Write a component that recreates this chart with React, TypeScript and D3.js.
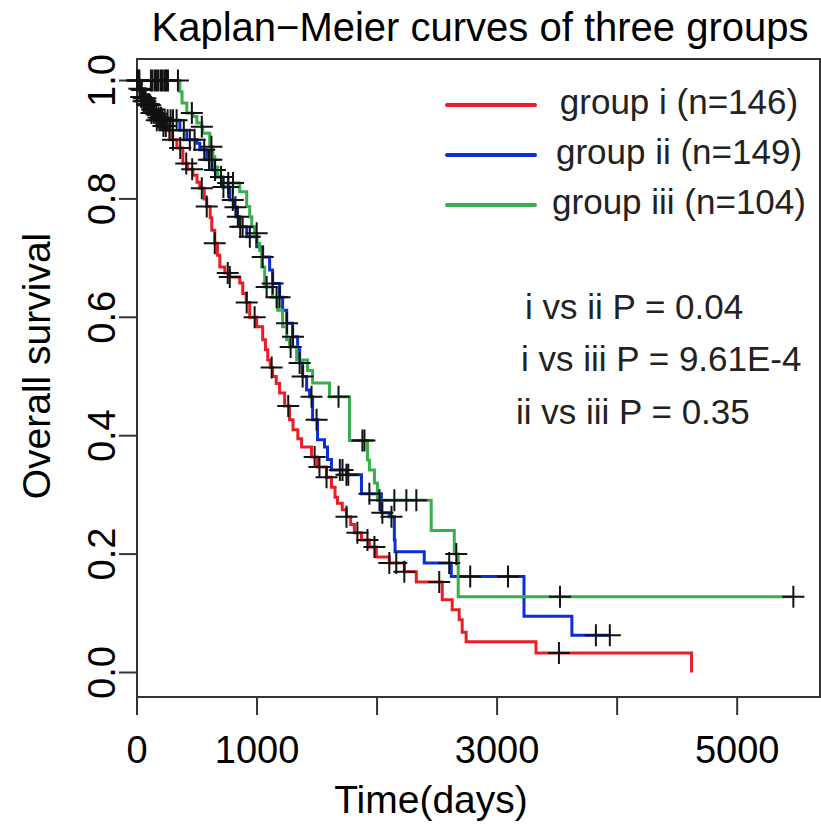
import * as d3 from 'd3'
import React, { useEffect, useRef } from 'react'

// survival steps: [days, survival after the drop]
const stepsI: [number, number][] = [
  [0, 1], [15, 0.986], [30, 0.972], [50, 0.965], [80, 0.958], [120, 0.951], [150, 0.944],
  [180, 0.937], [220, 0.923], [250, 0.916], [290, 0.9], [332, 0.886], [382, 0.86], [420, 0.85],
  [466, 0.84], [500, 0.828], [523, 0.818], [560, 0.8], [581, 0.787], [610, 0.768], [623, 0.747],
  [648, 0.725], [670, 0.705], [690, 0.685], [731, 0.675], [773, 0.668], [856, 0.658], [881, 0.64],
  [910, 0.625], [939, 0.6], [997, 0.584], [1047, 0.562], [1070, 0.545], [1089, 0.528], [1110, 0.515],
  [1130, 0.5], [1160, 0.488], [1188, 0.472], [1230, 0.45], [1271, 0.427], [1300, 0.41], [1340, 0.395],
  [1371, 0.381], [1454, 0.364], [1504, 0.347], [1579, 0.33], [1620, 0.313], [1650, 0.296],
  [1670, 0.286], [1710, 0.275], [1745, 0.263], [1780, 0.25], [1811, 0.236], [1870, 0.224],
  [1936, 0.212], [1994, 0.195], [2102, 0.185], [2227, 0.17], [2327, 0.153], [2543, 0.123],
  [2626, 0.106], [2684, 0.089], [2709, 0.068], [2742, 0.052], [3324, 0.033], [4620, 0],
]
const stepsII: [number, number][] = [
  [0, 1], [25, 0.984], [50, 0.97], [75, 0.96], [110, 0.945], [160, 0.933], [357, 0.916],
  [415, 0.9], [499, 0.894], [523, 0.883], [581, 0.866], [632, 0.849], [665, 0.837], [715, 0.82],
  [773, 0.798], [810, 0.786], [831, 0.77], [856, 0.753], [914, 0.736], [997, 0.719], [1047, 0.702],
  [1105, 0.68], [1130, 0.657], [1188, 0.634], [1213, 0.612], [1247, 0.59], [1296, 0.567],
  [1338, 0.545], [1355, 0.523], [1380, 0.5], [1413, 0.477], [1438, 0.466], [1463, 0.427],
  [1504, 0.393], [1562, 0.381], [1587, 0.36], [1620, 0.342], [1745, 0.334], [1870, 0.302],
  [2036, 0.27], [2102, 0.263], [2144, 0.224], [2150, 0.204], [2393, 0.185], [2618, 0.162],
  [3224, 0.095], [3623, 0.063],
]
const stepsIII: [number, number][] = [
  [0, 1], [357, 0.981], [375, 0.962], [415, 0.945], [466, 0.939], [499, 0.928], [540, 0.922],
  [548, 0.911], [606, 0.888], [632, 0.871], [648, 0.854], [673, 0.837], [715, 0.827], [856, 0.812],
  [914, 0.787], [939, 0.77], [956, 0.753], [980, 0.742], [1000, 0.725], [1022, 0.713], [1039, 0.685],
  [1064, 0.651], [1130, 0.634], [1172, 0.612], [1213, 0.584], [1247, 0.562], [1271, 0.55],
  [1330, 0.528], [1421, 0.51], [1463, 0.489], [1604, 0.466], [1770, 0.392], [1920, 0.359],
  [1936, 0.342], [1978, 0.32], [2003, 0.291], [2451, 0.24], [2643, 0.2], [2676, 0.128],
]
const endTimes = [4620, 3939, 5468]

// censored times (crosses)
const censorI = [20, 35, 55, 70, 90, 110, 125, 145, 160, 180, 200, 220, 240, 270, 300, 360, 410, 460,
  540, 581, 648, 756, 773, 914, 980, 1122, 1260, 1480, 1520, 1579, 1745, 1836, 1920, 1978, 2102,
  2160, 2227, 2518, 3515]
const censorII = [10, 20, 40, 55, 70, 85, 100, 120, 140, 165, 190, 210, 230, 255, 280, 300, 330, 390,
  440, 480, 560, 600, 620, 650, 700, 720, 760, 798, 820, 840, 860, 880, 940, 1047, 1130, 1188, 1250,
  1300, 1355, 1380, 1454, 1496, 1690, 1712, 1745, 1760, 1936, 2044, 2120, 2601, 2776, 3091, 3823, 3939]
const censorIII = [0, 116, 130, 150, 166, 180, 200, 215, 233, 245, 258, 341, 457, 540, 620, 700, 760,
  800, 997, 1080, 1163, 1280, 1679, 1878, 1895, 2020, 2144, 2244, 2327, 2660, 3524, 5468]

const groupNames = ['group i (n=146)', 'group ii (n=149)', 'group iii (n=104)']
const groupColors = ['#ec1c24', '#0b2fd6', '#35b04a']
const pLabels = ['i vs ii P = 0.04', 'i vs iii P = 9.61E-4', 'ii vs iii P = 0.35']

const xTicks = [0, 1000, 2000, 3000, 4000, 5000]
const xTickLabels = ['0', '1000', '', '3000', '', '5000']
const yTicks = [0, 0.2, 0.4, 0.6, 0.8, 1]

const font = '"Liberation Sans", Arial, sans-serif'

const App = () => {
  const ref = useRef<SVGSVGElement>(null)

  useEffect(() => {
    const svg = d3.select(ref.current)
    svg.selectAll('*').remove()

    const box = { left: 137, right: 820, top: 59, bottom: 697 }
    const x = d3.scaleLinear().domain([0, 5690]).range([box.left, box.right])
    const y = d3.scaleLinear().domain([0, 1]).range([672.5, 80.5])

    // Frame
    svg.append('rect')
      .attr('x', box.left).attr('y', box.top)
      .attr('width', box.right - box.left).attr('height', box.bottom - box.top)
      .attr('fill', 'none').attr('stroke', '#333').attr('stroke-width', 2)

    // Title
    svg.append('text')
      .attr('x', 480).attr('y', 41)
      .attr('text-anchor', 'middle')
      .style('font-family', font).style('font-size', '40px')
      .text('Kaplan\u2212Meier curves of three groups')

    // X axis
    svg.selectAll('.xt').data(xTicks).enter().append('line')
      .attr('x1', (d) => x(d)).attr('x2', (d) => x(d))
      .attr('y1', box.bottom).attr('y2', box.bottom + 18)
      .attr('stroke', '#333').attr('stroke-width', 2)
    svg.selectAll('.xl').data(xTicks).enter().append('text')
      .attr('x', (d) => x(d)).attr('y', 763)
      .attr('text-anchor', 'middle')
      .style('font-family', font).style('font-size', '38px')
      .text((_, i) => xTickLabels[i])
    svg.append('text')
      .attr('x', 431).attr('y', 813)
      .attr('text-anchor', 'middle')
      .style('font-family', font).style('font-size', '39px')
      .text('Time(days)')

    // Y axis
    svg.selectAll('.yt').data(yTicks).enter().append('line')
      .attr('x1', box.left).attr('x2', box.left - 18)
      .attr('y1', (d) => y(d)).attr('y2', (d) => y(d))
      .attr('stroke', '#333').attr('stroke-width', 2)
    svg.selectAll('.yl').data(yTicks).enter().append('text')
      .attr('transform', (d) => `translate(115, ${y(d)}) rotate(-90)`)
      .attr('text-anchor', 'middle')
      .style('font-family', font).style('font-size', '38px')
      .text((d) => d.toFixed(1))
    svg.append('text')
      .attr('transform', 'translate(50, 366) rotate(-90)')
      .attr('text-anchor', 'middle')
      .style('font-family', font).style('font-size', '39px')
      .text('Overall survival')

    // Curves
    const allSteps = [stepsI, stepsII, stepsIII]
    const allCensor = [censorI, censorII, censorIII]
    const line = d3.line<[number, number]>()
      .x((d) => x(d[0])).y((d) => y(d[1]))
      .curve(d3.curveStepAfter)

    const survAt = (steps: [number, number][], t: number) => {
      let s = 1
      for (const p of steps) if (p[0] <= t) s = p[1]
      return s
    }

    allSteps.forEach((steps, g) => {
      const pts: [number, number][] = [...steps, [endTimes[g], steps[steps.length - 1][1]]]
      svg.append('path')
        .attr('d', line(pts))
        .attr('fill', 'none')
        .attr('stroke', groupColors[g])
        .attr('stroke-width', 3)
    })

    // Censor marks
    allSteps.forEach((steps, g) => {
      const marks = svg.append('g')
      allCensor[g].forEach((t) => {
        const cx = x(t)
        const cy = y(survAt(steps, t))
        marks.append('path')
          .attr('d', `M${cx - 11},${cy}H${cx + 11}M${cx},${cy - 11}V${cy + 11}`)
          .attr('stroke', '#111').attr('stroke-width', 2)
      })
    })

    // Legend
    groupNames.forEach((name, i) => {
      const ly = 105 + i * 50
      svg.append('line')
        .attr('x1', 447).attr('x2', 535).attr('y1', ly).attr('y2', ly)
        .attr('stroke', groupColors[i]).attr('stroke-width', 4)
        .attr('stroke-linecap', 'round')
      svg.append('text')
        .attr('x', 679).attr('y', ly + 9)
        .attr('text-anchor', 'middle')
        .style('font-family', font).style('font-size', '35px')
        .attr('fill', '#222')
        .text(name)
    })

    // P values
    const pX = [525, 521, 516]
    const pY = [319, 371, 424]
    pLabels.forEach((p, i) => {
      svg.append('text')
        .attr('x', pX[i]).attr('y', pY[i])
        .style('font-family', font).style('font-size', '35px')
        .attr('fill', '#222')
        .text(p)
    })
  }, [])

  return (
    <svg ref={ref} width={821} height={825}
      style={{ position: 'absolute', left: 0, top: 0, background: '#fff' }} />
  )
}

export default App
